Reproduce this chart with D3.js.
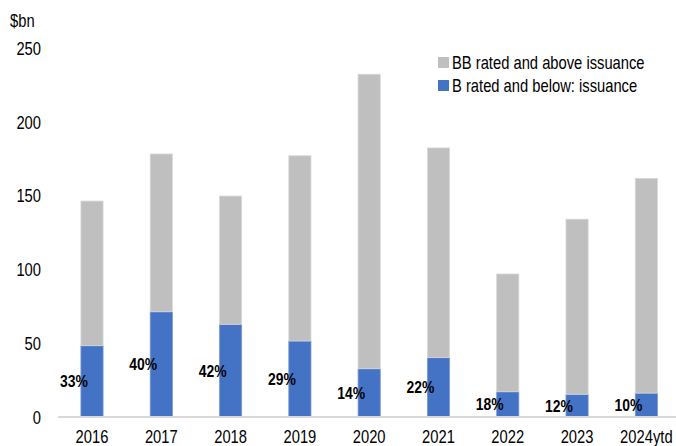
<!DOCTYPE html>
<html>
<head>
<meta charset="utf-8">
<script src="https://cdn.jsdelivr.net/npm/d3@7/dist/d3.min.js"></script>
<style>
  html, body { margin: 0; padding: 0; background: #fff; }
  svg text { font-family: "Liberation Sans Narrow", "Arial Narrow", "Liberation Sans", Arial, sans-serif; fill: #000; }
</style>
</head>
<body>
<svg id="chart" width="676" height="446"></svg>
<script>
// Issuance by rating bucket, $bn
const years = ["2016", "2017", "2018", "2019", "2020", "2021", "2022", "2023", "2024ytd"];
const bRatedAndBelow = [48.3, 71.3, 62.8, 51.5, 32.7, 40.2, 17.1, 15.4, 16.2];
const bbRatedAndAbove = [98.0, 106.9, 86.9, 125.5, 199.5, 142.1, 79.8, 118.6, 145.5];
const shareLabels = ["33%", "40%", "42%", "29%", "14%", "22%", "18%", "12%", "10%"];
const yTicks = [0, 50, 100, 150, 200, 250];
const seriesNames = ["BB rated and above issuance", "B rated and below: issuance"];

const colors = { bb: "#BFBFBF", b: "#4472C4" };

// Condensed lettering: squeeze text horizontally around its own x anchor
const SQUEEZE = 0.82;
function squeeze(sel) {
  sel.each(function () {
    const t = d3.select(this);
    const x0 = +(t.attr("x") || 0);
    t.attr("x", x0 / SQUEEZE).attr("transform", `scale(${SQUEEZE},1)`);
  });
}

const svg = d3.select("#chart");

const x = d3.scaleBand()
  .domain(years)
  .range([57.35, 681])
  .paddingInner(0.68)
  .paddingOuter(0.34);

const y = d3.scaleLinear()
  .domain([0, 250])
  .range([417, 48]);

const rows = years.map((yr, i) => ({
  year: yr,
  b: bRatedAndBelow[i],
  bb: bbRatedAndAbove[i],
  label: shareLabels[i]
}));

const stacked = d3.stack().keys(["b", "bb"])(rows);

// Stacked bars
svg.append("g")
  .selectAll("g")
  .data(stacked)
  .join("g")
  .attr("fill", d => colors[d.key])
  .attr("stroke", d => d.key === "bb" ? "#D9D9D9" : "#7A98D2")
  .attr("stroke-width", 0.8)
  .selectAll("rect")
  .data(d => d)
  .join("rect")
  .attr("x", d => x(d.data.year))
  .attr("y", d => y(d[1]))
  .attr("width", x.bandwidth())
  .attr("height", d => y(d[0]) - y(d[1]));

// Baseline
svg.append("line")
  .attr("x1", 58).attr("x2", 676)
  .attr("y1", y(0)).attr("y2", y(0))
  .attr("stroke", "#D9D9D9")
  .attr("stroke-width", 2);

// Y axis (labels only)
const yAxis = d3.axisLeft(y).tickValues(yTicks).tickSize(0).tickPadding(0);
const gy = svg.append("g").attr("transform", "translate(41,0)").call(yAxis);
gy.select(".domain").remove();
gy.selectAll("text")
  .attr("font-size", 18)
  .attr("font-family", null)
  .attr("dy", "0.35em")
  .call(squeeze);

// X axis (labels only)
const xAxis = d3.axisBottom(x).tickSize(0).tickPadding(0);
const gx = svg.append("g").attr("transform", "translate(0,437)").call(xAxis);
gx.select(".domain").remove();
gx.selectAll("text")
  .attr("font-size", 18)
  .attr("font-family", null)
  .attr("dy", "0.35em")
  .call(squeeze);

// Unit label
svg.append("g").attr("transform", "translate(10,27)")
  .append("text")
  .attr("font-size", 18)
  .text("$bn")
  .call(squeeze);

// Share of B-and-below issuance, set beside the blue segment
svg.append("g")
  .selectAll("g")
  .data(rows)
  .join("g")
  .attr("transform", d => `translate(${x(d.year) + x.bandwidth() / 2 - 18},${y(d.b / 2)})`)
  .append("text")
  .attr("dy", "0.35em")
  .attr("text-anchor", "middle")
  .attr("font-size", 17)
  .attr("font-weight", "bold")
  .text(d => d.label)
  .call(squeeze);

// Legend
const legend = svg.append("g").attr("transform", "translate(438,57)");
const legendItems = [
  { name: seriesNames[0], color: colors.bb },
  { name: seriesNames[1], color: colors.b }
];
const li = legend.selectAll("g")
  .data(legendItems)
  .join("g")
  .attr("transform", (d, i) => `translate(0,${i * 23})`);
li.append("rect")
  .attr("width", 11).attr("height", 11)
  .attr("fill", d => d.color);
li.append("g").attr("transform", "translate(14,5.5)")
  .append("text")
  .attr("dy", "0.35em")
  .attr("font-size", 18)
  .text(d => d.name)
  .call(squeeze);
</script>
</body>
</html>
